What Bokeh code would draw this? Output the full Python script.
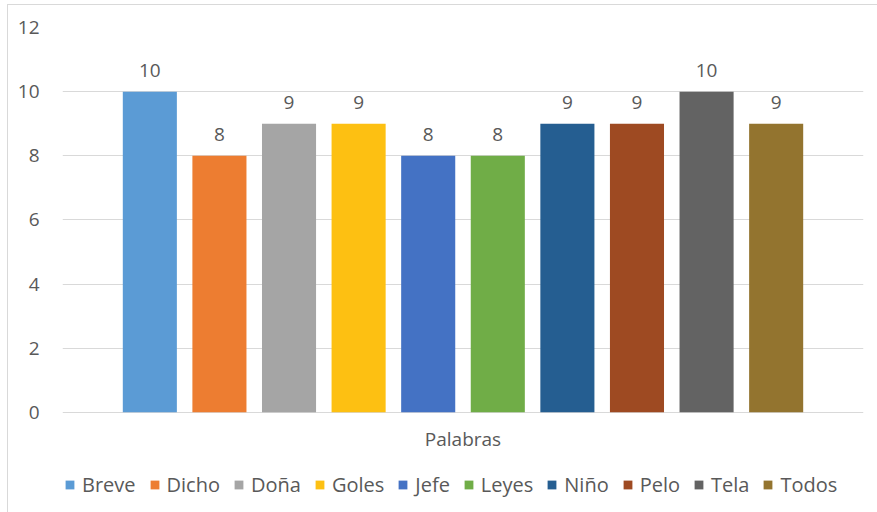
from bokeh.plotting import figure
from bokeh.models import Range1d, FixedTicker, Legend, LegendItem, ColumnDataSource
from bokeh.core.properties import value
from bokeh.embed import file_html
from bokeh.resources import INLINE

names = ["Breve", "Dicho", "Doña", "Goles", "Jefe", "Leyes", "Niño", "Pelo", "Tela", "Todos"]
values = [10, 8, 9, 9, 8, 8, 9, 9, 10, 9]
colors = ["#5B9BD5", "#ED7D31", "#A5A5A5", "#FDC012", "#4472C4",
          "#70AD47", "#255E91", "#9E4A22", "#636363", "#93742F"]
category = "Palabras"
y_ticks = [0, 2, 4, 6, 8, 10, 12]

FONT = "Open Sans"
TXT = "#595959"
FS = "19px"

# frame spans 485 px vertically; 12 units span 384 px above the zero line
y_top = 12
y_bottom = y_top - y_top * 485 / 384

p = figure(width=870, height=508, output_backend="svg", toolbar_location=None,
           x_range=Range1d(-1.255, 10.255), y_range=Range1d(y_bottom, y_top),
           min_border_left=54, min_border_right=15, min_border_top=22, min_border_bottom=0)
p.margin = (4, 0, 0, 7)
p.styles = {"border-top": "1px solid #d9d9d9", "border-left": "1px solid #d9d9d9"}

p.outline_line_color = None
p.background_fill_color = "white"
p.border_fill_color = "white"

xs = list(range(len(names)))
items = []
for i, (n, v, c) in enumerate(zip(names, values, colors)):
    src = ColumnDataSource(dict(x=[xs[i]], top=[v], lab=[str(v)]))
    r = p.vbar(x="x", top="top", width=0.777, bottom=0, source=src,
               fill_color=c, line_color=None)
    p.text(x="x", y="top", text="lab", source=src, text_align="center",
           text_baseline="middle", y_offset=-21, text_font=value(FONT),
           text_font_size=FS, text_color=TXT)
    items.append(LegendItem(label=n, renderers=[r]))

# category label under the cluster
mid = (xs[0] + xs[-1]) / 2
p.text(x=[mid], y=[0], text=[category], text_align="center", text_baseline="middle",
       y_offset=27, text_font=value(FONT), text_font_size=FS, text_color=TXT)

# y axis
p.yaxis.ticker = FixedTicker(ticks=y_ticks)
p.yaxis.axis_line_color = None
p.yaxis.major_tick_line_color = None
p.yaxis.minor_tick_line_color = None
p.yaxis.major_label_text_font = FONT
p.yaxis.major_label_text_font_size = FS
p.yaxis.major_label_text_color = TXT
p.yaxis.major_label_standoff = 17

p.ygrid.ticker = FixedTicker(ticks=y_ticks)
p.ygrid.grid_line_color = "#d9d9d9"
p.ygrid.grid_line_width = 1
p.xgrid.grid_line_color = None
p.xaxis.visible = False

legend = Legend(items=items, orientation="horizontal", location=(2, 15),
                glyph_width=11, glyph_height=11, label_standoff=7, spacing=13,
                label_text_font=FONT, label_text_font_size="20px",
                label_text_color=TXT, border_line_color=None,
                background_fill_alpha=0, padding=0, margin=0)
p.add_layout(legend)

open("out.html", "w").write(file_html(p, INLINE))
